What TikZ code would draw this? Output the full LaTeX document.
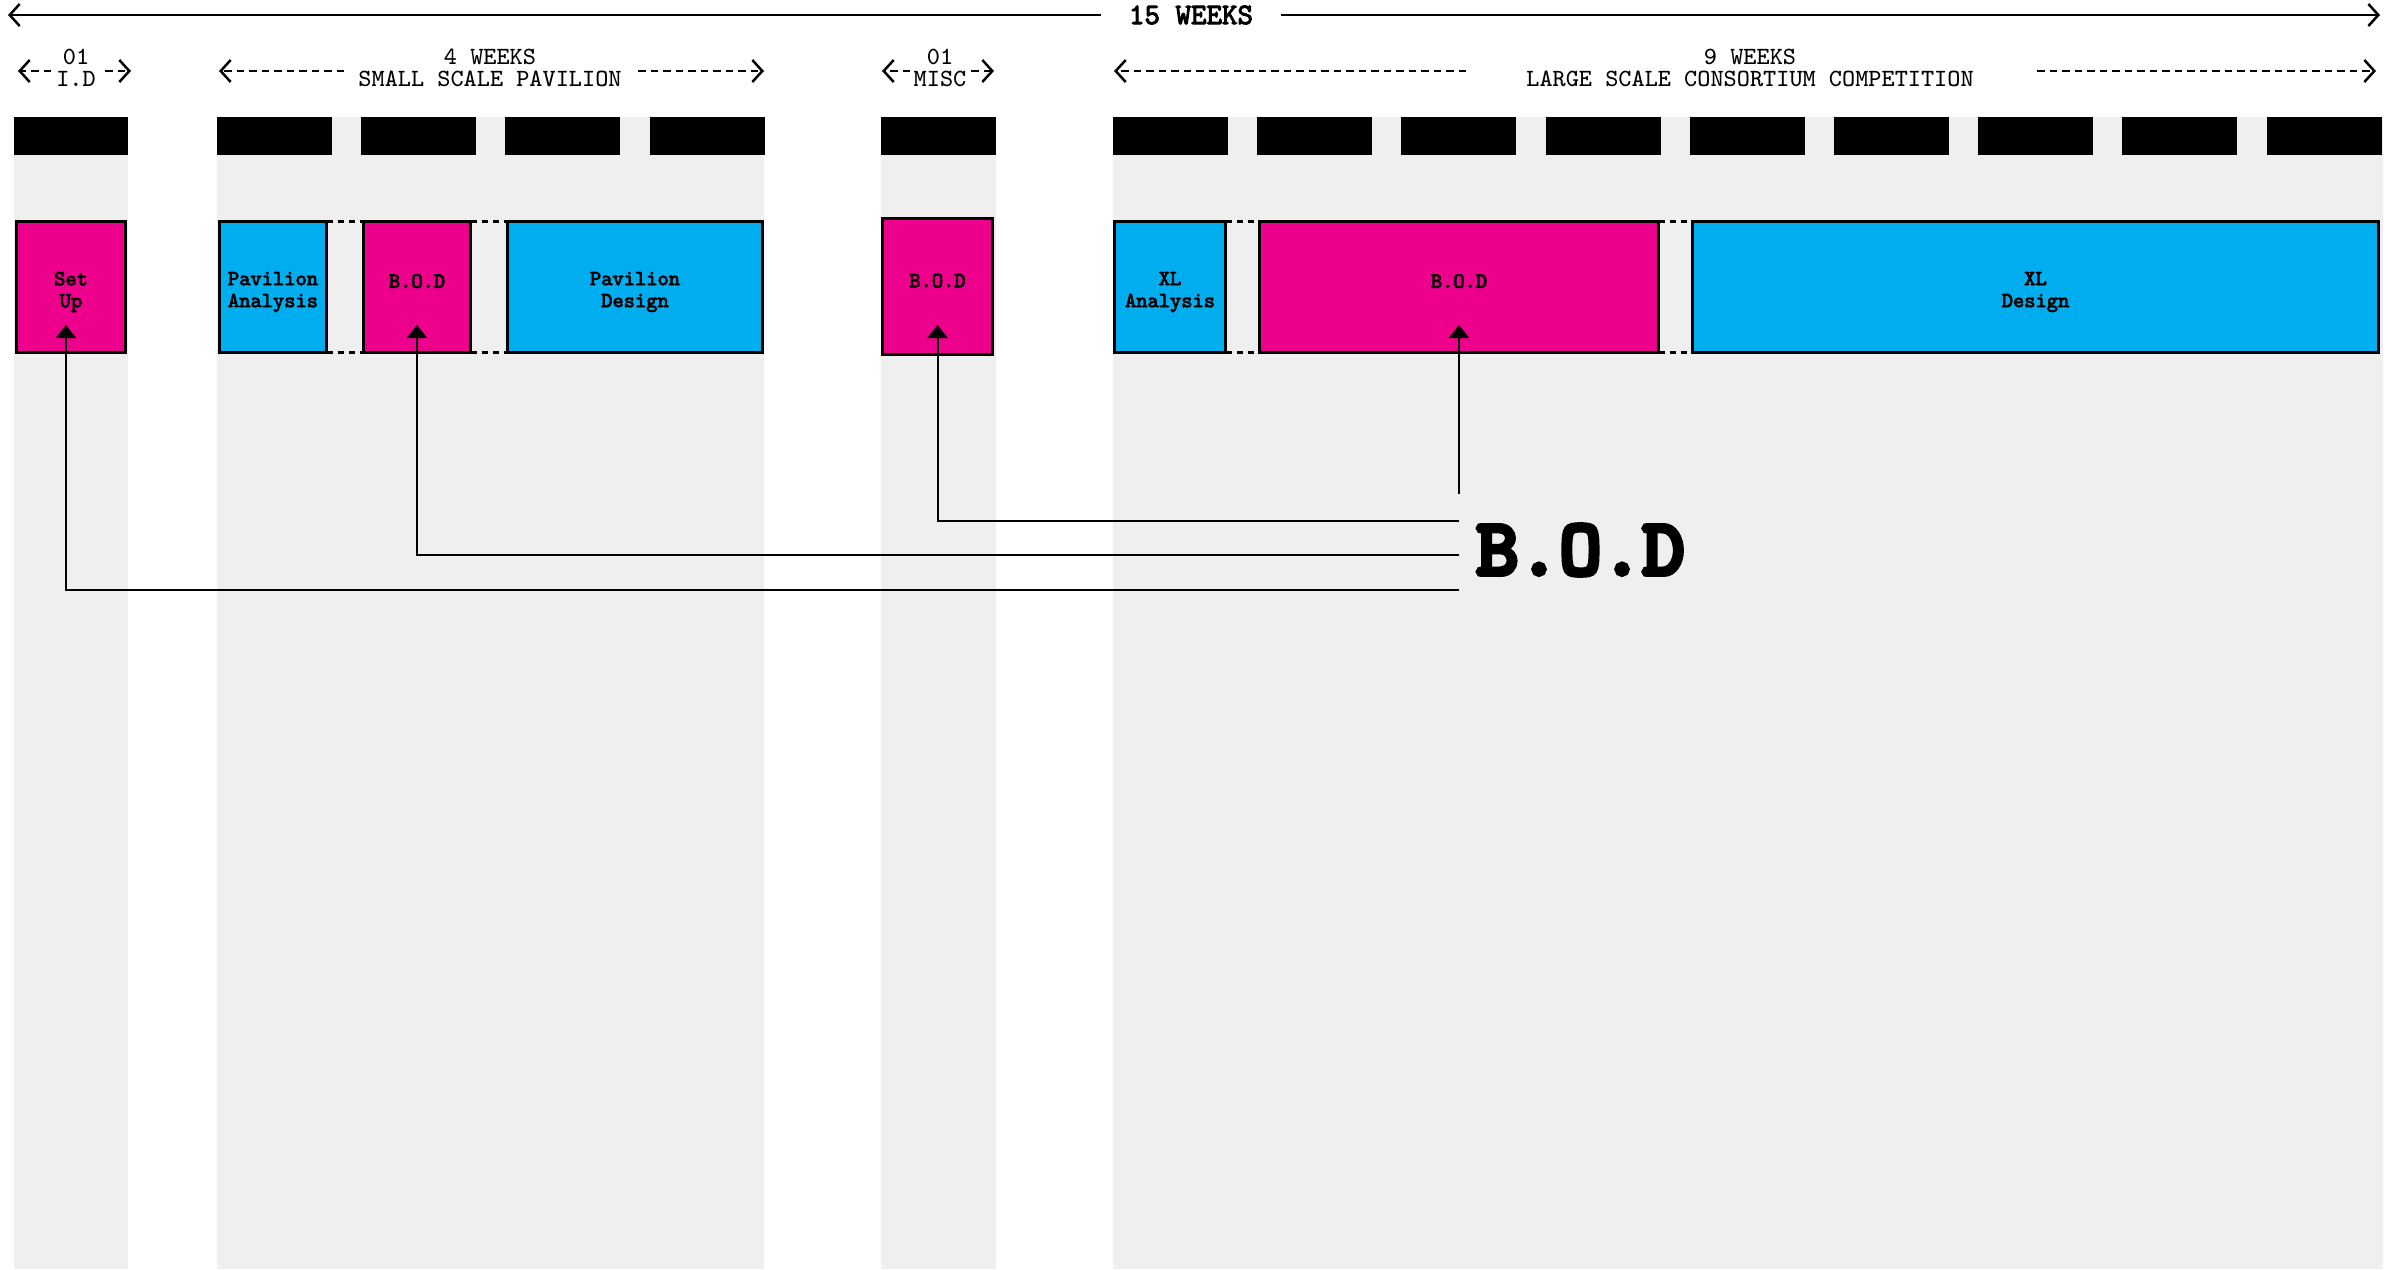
\documentclass[tikz,border=0pt]{standalone}
\usepackage{fontspec}
\newfontfamily\heavymono[FakeBold=3.5]{lmmono10-regular.otf}
\newfontfamily\blackmono[FakeBold=7]{lmmono10-regular.otf}
\usetikzlibrary{arrows.meta,calc}
\definecolor{padgray}{HTML}{EFEFEF}
\definecolor{bodpink}{HTML}{EC008C}
\definecolor{taskcyan}{HTML}{00AEEF}

\begin{document}
\begin{tikzpicture}[x=0.1mm,y=-0.1mm,
  column/.style={fill=padgray,draw=none},
  weekbar/.style={fill=black,draw=none},
  task/.style={draw=black,line width=0.32mm,outer sep=0pt,inner sep=0pt,minimum height=13.1mm},
  tasktext/.style={align=center,inner sep=0pt,yshift=-0.5mm,
    font=\heavymono\fontsize{6.1}{6.26}\selectfont},
  bodbox/.style={task,fill=bodpink},
  workbox/.style={task,fill=taskcyan},
  link/.style={line width=0.3mm,dash pattern=on 0.65mm off 0.45mm},
  conn/.style={line width=0.2mm,-{Triangle[length=1.3mm,width=2mm]}},
  span/.style={line width=0.25mm,-{Straight Barb[length=1mm,width=2.2mm]}},
  dspan/.style={span,dash pattern=on 0.75mm off 0.5mm},
  hdr/.style={align=center,inner sep=0pt,font=\ttfamily\fontsize{7.05}{6.26}\selectfont},
]
\useasboundingbox (0,0) rectangle (2395,1269);
\fill[white] (0,0) rectangle (2395,1269);

% phase columns
\fill[column] (14,117) rectangle (128,1269);
\fill[column] (217,117) rectangle (764,1269);
\fill[column] (881,117) rectangle (996,1269);
\fill[column] (1113,117) rectangle (2383,1269);

% week bars
\fill[weekbar] (14,117) rectangle (128,155);
\foreach \k in {0,...,3}
  \fill[weekbar] ({217+144.2*\k},117) rectangle ++(115,38);
\fill[weekbar] (881,117) rectangle (996,155);
\foreach \k in {0,...,8}
  \fill[weekbar] ({1113+144.2*\k},117) rectangle ++(115,38);

% overall span
\node[inner sep=0pt,font=\heavymono\fontsize{8.4}{9}\selectfont] (total) at (1191,15) {15 WEEKS};
\coordinate (totL) at (8,15);
\coordinate (totR) at (2380,15);
\draw[span] ([xshift=-2.75mm]total.west) -- (totL);
\draw[span] ([xshift=2.75mm]total.east) -- (totR);

% phase labels
\node[hdr] (idlab) at (76,68) {01\\I.D};
\node[hdr] (pavlab) at (490,68) {4 WEEKS\\SMALL SCALE PAVILION};
\node[hdr] (misclab) at (940,68) {01\\MISC};
\node[hdr] (xllab) at (1750,68) {9 WEEKS\\LARGE SCALE CONSORTIUM COMPETITION};

\coordinate (idA) at (51,71);   \coordinate (idL) at (18,71);
\coordinate (idB) at (105,71);  \coordinate (idR) at (131,71);
\coordinate (pavA) at (344,71); \coordinate (pavL) at (219,71);
\coordinate (pavB) at (638,71); \coordinate (pavR) at (764,71);
\coordinate (miA) at (910,71);  \coordinate (miL) at (882,71);
\coordinate (miB) at (971,71);  \coordinate (miR) at (994,71);
\coordinate (xlA) at (1466,71); \coordinate (xlL) at (1114,71);
\coordinate (xlB) at (2037,71); \coordinate (xlR) at (2376,71);
\draw[dspan] (idA) -- (idL);  \draw[dspan] (idB) -- (idR);
\draw[dspan] (pavA) -- (pavL); \draw[dspan] (pavB) -- (pavR);
\draw[dspan] (miA) -- (miL);  \draw[dspan] (miB) -- (miR);
\draw[dspan] (xlA) -- (xlL);  \draw[dspan] (xlB) -- (xlR);

% tasks
\node[bodbox, minimum width=10.9mm, label={[tasktext]center:Set\\Up}] (setup) at (71,287) {};
\node[workbox, minimum width=10.7mm, label={[tasktext]center:Pavilion\\Analysis}] (pavan) at (273,287) {};
\node[bodbox, minimum width=10.7mm, label={[tasktext]center:B.O.D\\\mbox{}}] (pavbod) at (417,287) {};
\node[workbox, minimum width=25.5mm, label={[tasktext]center:Pavilion\\Design}] (pavdes) at (635,287) {};
\node[bodbox, minimum width=11mm, minimum height=13.6mm, label={[tasktext]center:B.O.D\\\mbox{}}] (miscbod) at (937.5,286.5) {};
\node[workbox, minimum width=11.1mm, label={[tasktext]center:XL\\Analysis}] (xlan) at (1170,287) {};
\node[bodbox, minimum width=39.9mm, label={[tasktext]center:B.O.D\\\mbox{}}] (xlbod) at (1459,287) {};
\node[workbox, minimum width=68.6mm, label={[tasktext]center:XL\\Design}] (xldes) at (2035.5,287) {};

% dotted joins between consecutive tasks
\draw[link] (pavan.north east) -- (pavbod.north west);
\draw[link] (pavan.south east) -- (pavbod.south west);
\draw[link] (pavbod.north east) -- (pavdes.north west);
\draw[link] (pavbod.south east) -- (pavdes.south west);
\draw[link] (xlan.north east) -- (xlbod.north west);
\draw[link] (xlan.south east) -- (xlbod.south west);
\draw[link] (xlbod.north east) -- (xldes.north west);
\draw[link] (xlbod.south east) -- (xldes.south west);

% B.O.D callout
\node[anchor=west,inner sep=0pt,font=\blackmono\fontsize{22.5}{24}\selectfont] (bodlabel) at (1476,550) {B.O.D};
\coordinate (jXL) at (1459,494);
\coordinate (jMisc) at (1459,521);
\coordinate (jPav) at (1459,555);
\coordinate (jSet) at (1459,590);
\draw[conn] (jXL) -- ([yshift=2.75mm]xlbod.south);
\draw[conn] (jMisc) -| ([yshift=2.95mm]miscbod.south);
\draw[conn] (jPav) -| ([yshift=2.75mm]pavbod.south);
\draw[conn] (jSet) -| ([xshift=-0.5mm,yshift=2.75mm]setup.south);
\end{tikzpicture}
\end{document}
